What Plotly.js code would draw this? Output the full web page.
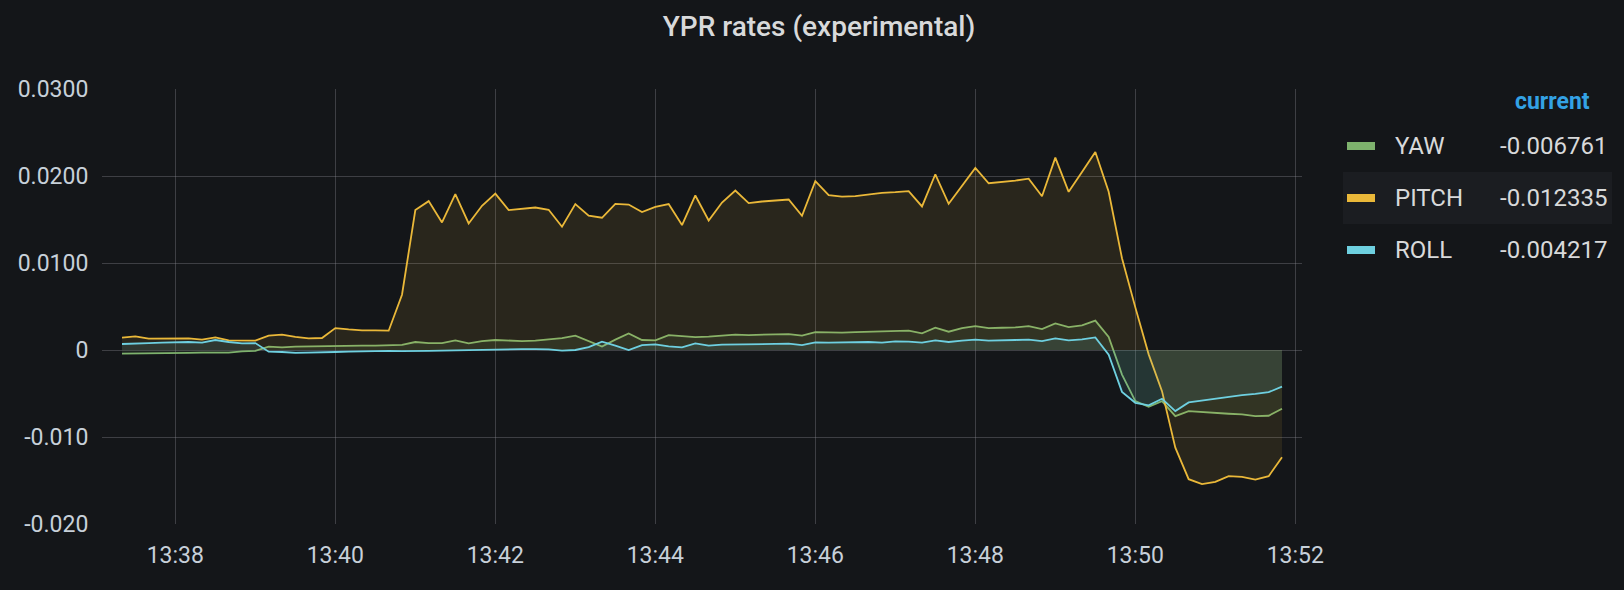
<!DOCTYPE html>
<html>
<head>
<meta charset="utf-8">
<script src="https://cdn.plot.ly/plotly-3.0.1.min.js"></script>
<style>
  html, body { margin: 0; padding: 0; background: #141619; }
  #plot { width: 1624px; height: 590px; }
</style>
</head>
<body>
<div id="plot"></div>
<script>
// samples every 10 s, first one at 13:37:20
const day = '2019-06-01';
const startSeconds = 13 * 3600 + 37 * 60 + 20;
const stepSeconds = 10;

const yawValues = [
  -0.00041, -0.00041, -0.00038, -0.00038, -0.00034, -0.00034, -0.0003, -0.0003, -0.0003, -0.00015,
  -0.00011, 0.00039, 0.00031, 0.00039, 0.00042, 0.00046, 0.0005, 0.0005, 0.0005, 0.0005,
  0.00054, 0.00058, 0.00092, 0.0008, 0.0008, 0.00111, 0.00077, 0.00103, 0.00115, 0.00107,
  0.00103, 0.00107, 0.00126, 0.00137, 0.00165, 0.001, 0.00039, 0.00119, 0.00191, 0.00115,
  0.00111, 0.00172, 0.00157, 0.00149, 0.00153, 0.00165, 0.00176, 0.00172, 0.00172, 0.0018,
  0.00183, 0.00165, 0.00206, 0.00199, 0.00199, 0.00206, 0.0021, 0.00214, 0.00226, 0.00222,
  0.00191, 0.00256, 0.0021, 0.00252, 0.00275, 0.00252, 0.00256, 0.0026, 0.00275, 0.00241,
  0.00306, 0.00264, 0.00283, 0.00337, 0.0015, -0.00282, -0.00588, -0.00653, -0.00588, -0.0076,
  -0.00702, -0.00714, -0.00729, -0.00733, -0.0074, -0.0076, -0.00756, -0.006761
];

const pitchValues = [
  0.00142, 0.00157, 0.0013, 0.00134, 0.00138, 0.00134, 0.00119, 0.00145, 0.00111, 0.00111,
  0.00107, 0.00165, 0.00176, 0.0015, 0.00134, 0.00138, 0.00252, 0.00237, 0.00226, 0.00226,
  0.00222, 0.00635, 0.01608, 0.01711, 0.01466, 0.01791, 0.01455, 0.01658, 0.01798, 0.01608,
  0.01627, 0.01638, 0.01612, 0.01417, 0.01677, 0.01543, 0.0152, 0.0168, 0.01672, 0.01585,
  0.01646, 0.01677, 0.01436, 0.01776, 0.01489, 0.01695, 0.01833, 0.01688, 0.01707, 0.01718,
  0.0173, 0.01543, 0.0194, 0.0178, 0.01764, 0.01768, 0.01791, 0.01806, 0.01814, 0.01826,
  0.0165, 0.0202, 0.0168, 0.01887, 0.02093, 0.01917, 0.01929, 0.01947, 0.0197, 0.01768,
  0.02211, 0.01818, 0.02047, 0.02276, 0.01818, 0.01054, 0.0049, -0.0005, -0.00473, -0.01122,
  -0.01485, -0.01542, -0.01515, -0.0145, -0.01458, -0.01489, -0.0145, -0.012335
];

const rollValues = [
  0.00069, 0.00077, 0.0008, 0.00084, 0.00092, 0.00092, 0.00084, 0.00115, 0.00092, 0.00077,
  0.0008, -0.00019, -0.00023, -0.00034, -0.0003, -0.00023, -0.00023, -0.00019, -0.00015, -0.00015,
  -0.00011, -0.00013, -0.00015, -0.00011, -0.00007, -0.00003, -0.00003, 0.00004, 0.00004, 0.00008,
  0.00011, 0.00011, 0.00008, -0.00007, 0.0, 0.00034, 0.00096, 0.0005, 0.0, 0.00057,
  0.00065, 0.00042, 0.00031, 0.00077, 0.0005, 0.00061, 0.00065, 0.00069, 0.00073, 0.00073,
  0.00073, 0.00057, 0.00088, 0.00084, 0.00088, 0.00088, 0.00092, 0.00084, 0.001, 0.00096,
  0.00084, 0.00111, 0.00092, 0.00107, 0.00119, 0.00107, 0.00107, 0.00115, 0.00119, 0.00103,
  0.00134, 0.00111, 0.00122, 0.00145, -0.00053, -0.00481, -0.00607, -0.00637, -0.00561, -0.00702,
  -0.00603, -0.0058, -0.00565, -0.00542, -0.00519, -0.00504, -0.00485, -0.004217
];

const seriesNames = ['YAW', 'PITCH', 'ROLL'];
const seriesColors = ['#7eb26d', '#eab839', '#6ed0e0'];
const seriesFills = ['rgba(126,178,109,0.1)', 'rgba(234,184,57,0.1)', 'rgba(110,208,224,0.1)'];

const yTickValues = [0.03, 0.02, 0.01, 0, -0.01, -0.02];
const yTickLabels = ['0.0300', '0.0200', '0.0100', '0', '-0.010', '-0.020'];

function pad(n) { return String(n).padStart(2, '0'); }
function timeAt(i) {
  let s = startSeconds + i * stepSeconds;
  return day + ' ' + pad(Math.floor(s / 3600)) + ':' + pad(Math.floor(s / 60) % 60) + ':' + pad(s % 60);
}

const allValues = [yawValues, pitchValues, rollValues];
const times = yawValues.map((_, i) => timeAt(i));

var data = [];
allValues.forEach((vals, n) => {
  data.push({
    type: 'scatter', mode: 'lines', x: times, y: vals, name: seriesNames[n],
    line: {color: seriesColors[n], width: 1.8},
    fill: 'tozeroy', fillcolor: seriesFills[n],
    hoverinfo: 'skip', showlegend: false,
  });
});

// plot area in pixels: left 102, right 1302, top 89, bottom 524
const L = 102, R = 1302, T = 89, B = 524;
function px(x) { return (x - L) / (R - L); }
function py(y) { return (B - y) / (B - T); }

var shapes = [
  // highlighted legend row
  {type: 'rect', xref: 'paper', yref: 'paper', x0: px(1343), x1: px(1612), y0: py(224), y1: py(172),
   fillcolor: '#1b1d21', line: {width: 0}, layer: 'below'},
];
var annotations = [
  {xref: 'paper', yref: 'paper', x: px(1592), y: py(101), xanchor: 'right', yanchor: 'middle',
   text: '<b>current</b>', showarrow: false,
   font: {family: 'Roboto', size: 23, color: '#33a2e5'}},
];
const rowY = [146, 198, 250];
seriesNames.forEach((name, n) => {
  shapes.push({type: 'rect', xref: 'paper', yref: 'paper',
    x0: px(1347), x1: px(1375), y0: py(rowY[n] + 4), y1: py(rowY[n] - 4),
    fillcolor: seriesColors[n], line: {width: 0}});
  annotations.push({xref: 'paper', yref: 'paper', x: px(1393), y: py(rowY[n]),
    xanchor: 'left', yanchor: 'middle', text: name, showarrow: false,
    font: {family: 'Roboto', size: 24, color: '#d8d9da'}});
  let vals = allValues[n];
  annotations.push({xref: 'paper', yref: 'paper', x: px(1609), y: py(rowY[n]),
    xanchor: 'right', yanchor: 'middle', text: vals[vals.length - 1].toFixed(6), showarrow: false,
    font: {family: 'Roboto', size: 24, color: '#d8d9da'}});
});

var layout = {
  width: 1624, height: 590,
  paper_bgcolor: '#141619', plot_bgcolor: '#141619',
  margin: {l: L, r: 1624 - R, t: T, b: 590 - B},
  title: {text: 'YPR rates (experimental)', x: 819 / 1624, xanchor: 'center',
          y: 1 - 26 / 590, yref: 'container', yanchor: 'middle',
          font: {family: 'Roboto', size: 28, color: '#d8d9da', weight: 500}},
  font: {family: 'Roboto', color: '#c7d0d9', size: 23},
  xaxis: {
    type: 'date', range: [day + ' 13:37:05', day + ' 13:52:05'],
    tick0: day + ' 13:38:00', dtick: 120000, tickformat: '%H:%M',
    showgrid: true, gridcolor: 'rgba(140,140,150,0.35)', gridwidth: 1,
    zeroline: false, showline: false,
    ticks: 'outside', ticklen: 10, tickcolor: 'rgba(0,0,0,0)',
    tickfont: {family: 'Roboto', size: 23, color: '#c7d0d9'},
  },
  yaxis: {
    range: [-0.02, 0.03], tickmode: 'array', tickvals: yTickValues, ticktext: yTickLabels,
    showgrid: true, gridcolor: 'rgba(140,140,150,0.35)', gridwidth: 1,
    zeroline: false, showline: false,
    ticks: 'outside', ticklen: 8, tickcolor: 'rgba(0,0,0,0)',
    tickfont: {family: 'Roboto', size: 23, color: '#c7d0d9'},
  },
  shapes: shapes,
  annotations: annotations,
  hovermode: false,
};

Plotly.newPlot('plot', data, layout, {displayModeBar: false, staticPlot: true});
</script>
</body>
</html>
